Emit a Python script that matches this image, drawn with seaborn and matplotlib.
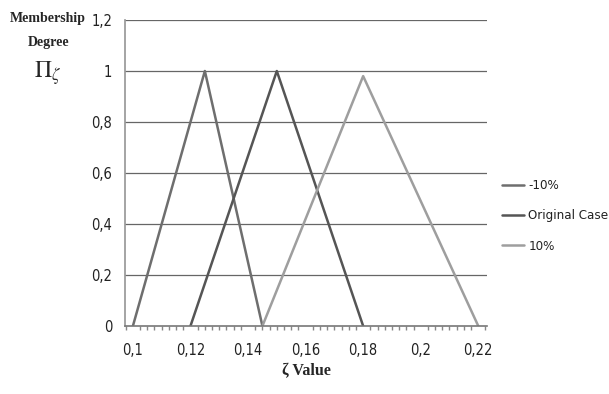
import matplotlib
matplotlib.use("Agg")
import matplotlib.pyplot as plt
import seaborn as sns
import pandas as pd
import numpy as np
from matplotlib.ticker import FixedLocator, MultipleLocator

# Data
series_names = ["-10%", "Original Case", "10%"]
x_minus10 = [0.100, 0.125, 0.145]
y_minus10 = [0.0, 1.0, 0.0]
x_original = [0.120, 0.150, 0.180]
y_original = [0.0, 1.0, 0.0]
x_plus10 = [0.145, 0.180, 0.220]
y_plus10 = [0.0, 0.98, 0.0]
x_ticks = [0.10, 0.12, 0.14, 0.16, 0.18, 0.20, 0.22]
x_tick_labels = ["0,1", "0,12", "0,14", "0,16", "0,18", "0,2", "0,22"]
y_ticks = [0.0, 0.2, 0.4, 0.6, 0.8, 1.0, 1.2]
y_tick_labels = ["0", "0,2", "0,4", "0,6", "0,8", "1", "1,2"]

frames = []
for name, xs, ys in zip(series_names,
                        [x_minus10, x_original, x_plus10],
                        [y_minus10, y_original, y_plus10]):
    frames.append(pd.DataFrame({"x": xs, "y": ys, "series": name}))
df = pd.concat(frames, ignore_index=True)

sns.set_theme(style="white")
plt.rcParams['font.family'] = ['DejaVu Sans']
plt.rcParams['font.stretch'] = 'condensed'
plt.rcParams['mathtext.fontset'] = 'stix'

fig = plt.figure(figsize=(6.09, 3.94), dpi=100)
ax = fig.add_axes([0.205, 0.1726, 0.595, 0.7766])

palette = {"-10%": "#6e6e6e", "Original Case": "#555555", "10%": "#9e9e9e"}
sns.lineplot(data=df, x="x", y="y", hue="series", palette=palette,
             sort=False, estimator=None, linewidth=1.8, ax=ax,
             hue_order=series_names)

ax.set_xlim(0.0972, 0.2231)
ax.set_ylim(0, 1.2)
ax.xaxis.set_major_locator(FixedLocator(x_ticks))
ax.set_xticklabels(x_tick_labels)
ax.yaxis.set_major_locator(FixedLocator(y_ticks))
ax.set_yticklabels(y_tick_labels)
ax.xaxis.set_minor_locator(MultipleLocator(0.0025))
ax.tick_params(axis='x', which='minor', length=3, color='#888888', direction='out', bottom=True)
ax.tick_params(axis='x', which='major', length=0, pad=12, labelsize=10.5, labelcolor='#222222')
ax.tick_params(axis='y', which='major', length=0, pad=9, labelsize=10.5, labelcolor='#222222')

for yv in y_ticks[1:]:
    ax.axhline(yv, color='#666666', linewidth=0.9, zorder=0)

for s in ['top', 'right']:
    ax.spines[s].set_visible(False)
ax.spines['left'].set_color('#999999')
ax.spines['bottom'].set_color('#777777')
ax.spines['bottom'].set_linewidth(1.2)

ax.set_xlabel("ζ Value", fontsize=11.5, fontweight='bold',
              family=['Liberation Serif', 'DejaVu Serif'], labelpad=4)
ax.set_ylabel("")

fig.text(0.079, 0.954, "Membership", ha='center', va='center', fontsize=10,
         fontweight='bold', family=['Liberation Serif', 'DejaVu Serif'])
fig.text(0.079, 0.893, "Degree", ha='center', va='center', fontsize=10,
         fontweight='bold', family=['Liberation Serif', 'DejaVu Serif'])
fig.text(0.079, 0.815, r"$\Pi_{\zeta}$", ha='center', va='center', fontsize=17)

leg = ax.legend(loc='center left', bbox_to_anchor=(0.824, 0.452),
                bbox_transform=fig.transFigure, frameon=False, borderpad=0,
                borderaxespad=0, handlelength=1.7, handletextpad=0.3,
                labelspacing=1.3, fontsize=9.5)
for t in leg.get_texts():
    t.set_color('#222222')

fig.savefig("out.png", dpi=100)
